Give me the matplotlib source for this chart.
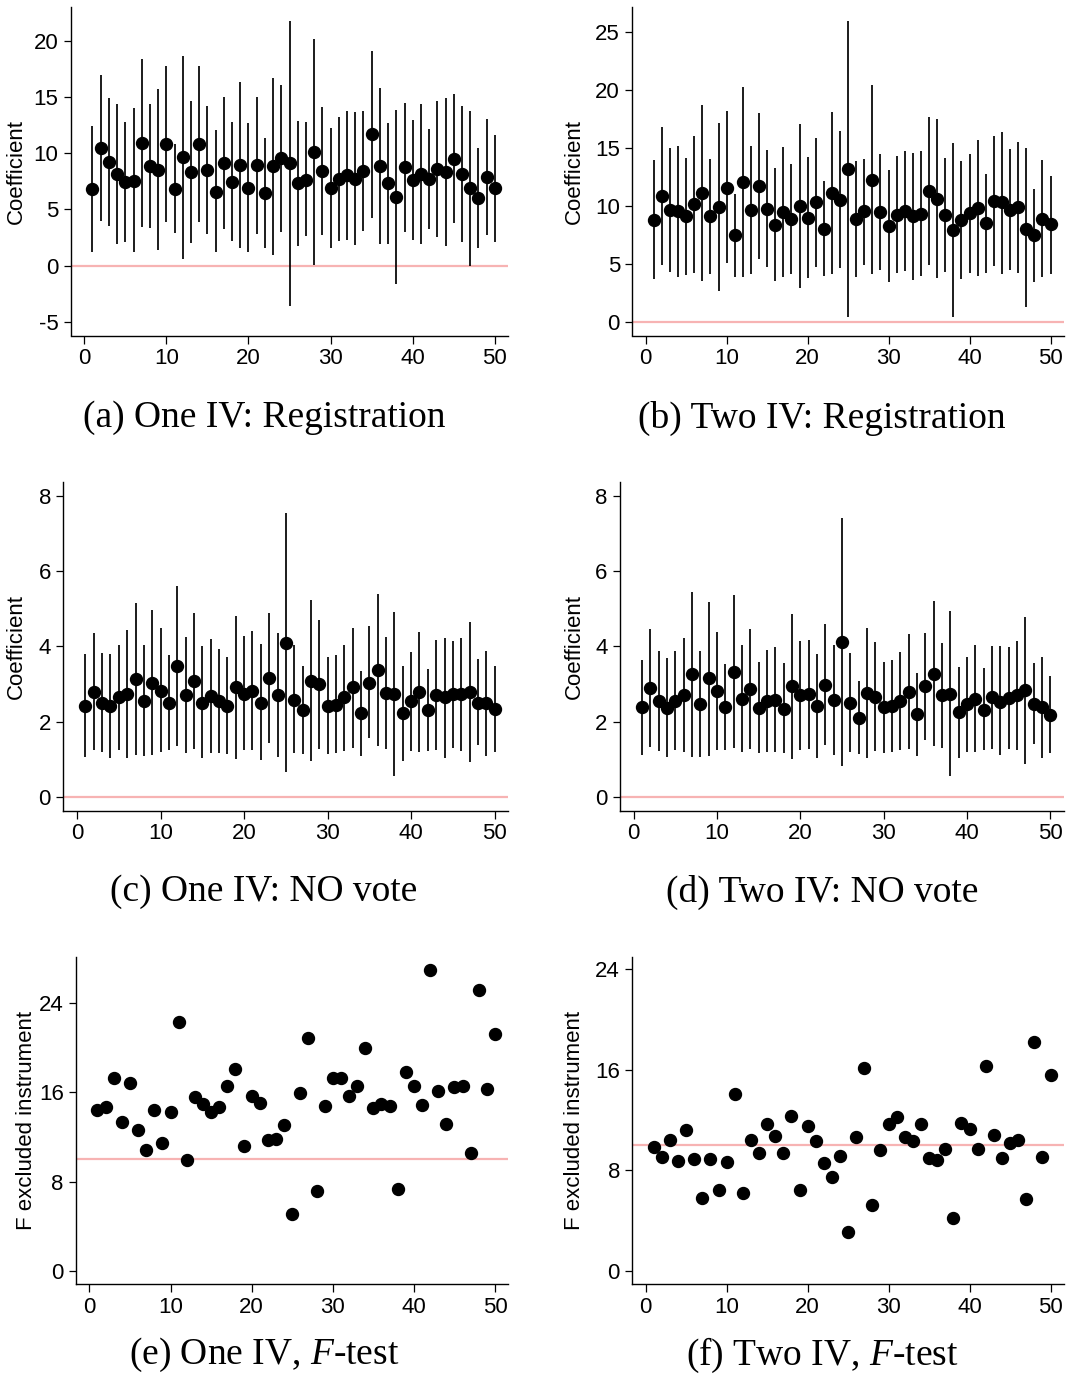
import numpy as np
import matplotlib
matplotlib.use("Agg")
import matplotlib.pyplot as plt

plt.rcParams['font.family'] = ['Liberation Sans', 'DejaVu Sans']
plt.rcParams['mathtext.fontset'] = 'custom'
plt.rcParams['mathtext.rm'] = 'Liberation Serif'
plt.rcParams['mathtext.it'] = 'Liberation Serif:italic'
plt.rcParams['axes.unicode_minus'] = False

sample = list(range(1, 51))

# (a) One IV: Registration
a_coef = [6.82, 10.5, 9.26, 8.19, 7.45, 7.54, 10.95, 8.9, 8.5, 10.83,
          6.82, 9.64, 8.34, 10.8, 8.5, 6.59, 9.14, 7.45, 8.96, 6.88,
          8.96, 6.5, 8.87, 9.55, 9.1, 7.33, 7.66, 10.1, 8.43, 6.88,
          7.69, 8.07, 7.74, 8.4, 11.7, 8.87, 7.33, 6.11, 8.75, 7.63,
          8.13, 7.74, 8.58, 8.34, 9.53, 8.19, 6.88, 6.05, 7.92, 6.88]
a_hi = [12.43, 17.0, 14.9, 14.4, 12.8, 14.0, 18.4, 14.4, 15.7, 17.8,
        10.8, 18.7, 14.7, 17.8, 14.2, 12.1, 15.0, 12.8, 16.35, 12.67,
        15.0, 11.4, 16.7, 16.1, 21.8, 12.9, 12.8, 20.15, 14.1, 12.25,
        13.2, 13.8, 13.7, 13.8, 19.1, 15.8, 12.7, 13.9, 14.5, 13.0,
        14.4, 12.2, 14.7, 14.9, 15.3, 14.2, 13.8, 10.5, 13.1, 11.6]
a_lo = [1.25, 3.95, 3.56, 1.93, 2.08, 1.19, 3.44, 3.35, 1.36, 3.89,
        2.88, 0.62, 1.99, 3.89, 2.79, 1.19, 3.26, 2.17, 1.6, 1.19,
        2.79, 1.6, 0.95, 2.97, -3.56, 1.78, 2.67, 0.06, 2.76, 1.54,
        2.23, 2.31, 1.84, 3.12, 4.24, 1.96, 1.96, -1.63, 3.03, 2.26,
        1.93, 3.29, 2.58, 1.75, 3.77, 2.14, 0.0, 1.54, 2.73, 2.14]

# (b) Two IV: Registration
b_coef = [8.8, 10.85, 9.67, 9.55, 9.12, 10.16, 11.13, 9.09, 9.9, 11.57,
          7.45, 12.08, 9.61, 11.71, 9.72, 8.34, 9.47, 8.89, 9.95, 8.98,
          10.3, 8.03, 11.13, 10.53, 13.15, 8.86, 9.52, 12.26, 9.44, 8.26,
          9.23, 9.58, 9.09, 9.32, 11.28, 10.59, 9.18, 7.91, 8.77, 9.35,
          9.81, 8.49, 10.44, 10.3, 9.67, 9.9, 8.03, 7.48, 8.89, 8.4]
b_hi = [13.95, 16.83, 15.02, 15.16, 14.15, 16.02, 18.73, 14.04, 17.15, 18.18,
        11.05, 20.25, 15.16, 17.98, 14.82, 13.26, 15.05, 13.64, 17.06, 14.21,
        15.82, 12.14, 18.1, 16.43, 25.98, 13.87, 14.04, 20.4, 14.44, 13.09,
        14.3, 14.76, 14.53, 14.7, 17.64, 17.49, 14.13, 15.39, 13.9, 14.47,
        15.68, 12.77, 16.05, 16.37, 14.87, 15.53, 14.99, 11.48, 13.95, 12.6]
b_lo = [3.65, 4.86, 4.32, 3.88, 4.06, 4.23, 3.51, 4.11, 2.65, 5.03,
        3.86, 3.86, 4.09, 5.41, 4.69, 3.51, 3.86, 4.14, 2.88, 3.77,
        4.75, 3.97, 4.14, 4.66, 0.37, 3.83, 4.89, 4.11, 4.43, 3.45,
        4.17, 4.37, 3.62, 3.94, 4.89, 3.74, 4.26, 0.43, 3.65, 4.23,
        3.97, 4.23, 4.83, 4.14, 4.46, 4.23, 1.24, 3.45, 3.83, 4.14]

# (c) One IV: NO vote
c_coef = [2.43, 2.80, 2.50, 2.42, 2.65, 2.73, 3.13, 2.56, 3.04, 2.82,
          2.50, 3.49, 2.71, 3.07, 2.49, 2.68, 2.56, 2.43, 2.91, 2.74,
          2.81, 2.51, 3.16, 2.71, 4.10, 2.58, 2.31, 3.09, 2.99, 2.43,
          2.45, 2.65, 2.91, 2.22, 3.04, 3.37, 2.75, 2.73, 2.22, 2.54,
          2.79, 2.30, 2.70, 2.65, 2.73, 2.73, 2.78, 2.51, 2.49, 2.34]
c_hi = [3.80, 4.35, 3.83, 3.80, 4.03, 4.43, 5.16, 4.04, 4.97, 4.48,
        3.77, 5.60, 4.26, 4.88, 4.00, 4.19, 3.94, 3.73, 4.81, 4.27,
        4.40, 4.06, 4.89, 4.36, 7.53, 4.03, 3.48, 5.23, 4.69, 3.72,
        3.76, 4.05, 4.49, 3.34, 4.54, 5.39, 4.24, 4.91, 3.48, 3.85,
        4.37, 3.39, 4.18, 4.21, 4.15, 4.23, 4.65, 3.66, 3.88, 3.48]
c_lo = [1.07, 1.25, 1.19, 1.03, 1.24, 1.04, 1.12, 1.10, 1.13, 1.21,
        1.26, 1.36, 1.16, 1.28, 1.04, 1.17, 1.18, 1.14, 1.01, 1.24,
        1.24, 0.99, 1.43, 1.06, 0.68, 1.18, 1.14, 0.96, 1.29, 1.14,
        1.16, 1.22, 1.31, 1.10, 1.56, 1.36, 1.27, 0.57, 0.97, 1.23,
        1.21, 1.23, 1.24, 1.04, 1.31, 1.23, 0.92, 1.38, 1.09, 1.19]

# (d) Two IV: NO vote
d_coef = [2.38, 2.90, 2.56, 2.37, 2.56, 2.71, 3.27, 2.48, 3.15, 2.81,
          2.39, 3.33, 2.60, 2.88, 2.37, 2.54, 2.58, 2.35, 2.94, 2.70,
          2.73, 2.43, 2.98, 2.57, 4.12, 2.50, 2.11, 2.75, 2.67, 2.38,
          2.42, 2.56, 2.80, 2.20, 2.94, 3.27, 2.71, 2.74, 2.25, 2.47,
          2.60, 2.32, 2.66, 2.53, 2.62, 2.70, 2.84, 2.48, 2.38, 2.19]
d_hi = [3.64, 4.45, 3.88, 3.70, 3.88, 4.23, 5.45, 3.88, 5.19, 4.39,
        3.54, 5.37, 4.03, 4.46, 3.59, 3.91, 3.99, 3.55, 4.87, 4.15,
        4.17, 3.81, 4.59, 4.03, 7.41, 3.83, 3.08, 4.50, 4.12, 3.59,
        3.64, 3.86, 4.32, 3.30, 4.35, 5.20, 4.09, 4.94, 3.46, 3.73,
        4.03, 3.42, 4.01, 4.01, 3.98, 4.13, 4.79, 3.57, 3.71, 3.22]
d_lo = [1.12, 1.34, 1.23, 1.07, 1.25, 1.19, 1.07, 1.07, 1.10, 1.24,
        1.24, 1.31, 1.21, 1.27, 1.16, 1.19, 1.19, 1.17, 1.02, 1.26,
        1.29, 1.04, 1.38, 1.12, 0.82, 1.19, 1.15, 1.04, 1.23, 1.16,
        1.19, 1.25, 1.27, 1.09, 1.51, 1.36, 1.31, 0.56, 1.04, 1.21,
        1.19, 1.24, 1.27, 1.11, 1.27, 1.24, 0.88, 1.40, 1.05, 1.16]

# (e) One IV, F-test
e_f = [14.40, 14.64, 17.29, 13.36, 16.85, 12.58, 10.82, 14.37, 11.48, 14.19,
       22.27, 9.96, 15.56, 14.91, 14.19, 14.70, 16.55, 18.04, 11.21, 15.65,
       15.03, 11.72, 11.84, 13.06, 5.13, 15.89, 20.84, 7.16, 14.76, 17.23,
       17.23, 15.68, 16.55, 19.98, 14.58, 14.94, 14.79, 7.36, 17.77, 16.55,
       14.82, 26.95, 16.10, 13.12, 16.49, 16.55, 10.58, 25.10, 16.25, 21.17]

# (f) Two IV, F-test
f_f = [9.88, 9.03, 10.41, 8.77, 11.23, 8.93, 5.80, 8.90, 6.41, 8.66,
       14.07, 6.20, 10.41, 9.38, 11.71, 10.70, 9.38, 12.32, 6.44, 11.52,
       10.33, 8.56, 7.50, 9.11, 3.07, 10.62, 16.16, 5.25, 9.64, 11.68,
       12.26, 10.68, 10.30, 11.66, 8.95, 8.85, 9.70, 4.24, 11.76, 11.26,
       9.72, 16.32, 10.78, 8.98, 10.17, 10.38, 5.75, 18.17, 9.03, 15.60]

ref_coef = 0
ref_f = 10

captions = ["(a) One IV: Registration", "(b) Two IV: Registration",
            "(c) One IV: NO vote", "(d) Two IV: NO vote",
            "(e) One IV, $F$-test", "(f) Two IV, $F$-test"]
ylabels = ["Coefficient", "Coefficient", "Coefficient", "Coefficient",
           "F excluded instrument", "F excluded instrument"]

W, H = 1086, 1387
fig = plt.figure(figsize=(W / 100, H / 100), dpi=100)

PINK = '#f7b3b3'
FS = 16


def make_ax(left, right, top, bottom):
    return fig.add_axes([left / W, 1 - bottom / H, (right - left) / W, (bottom - top) / H])


def style(ax, yticks, ylim, label, label_x_px, left_px, right_px):
    ax.set_xlim(-1.65, 51.6)
    ax.set_ylim(*ylim)
    ax.set_xticks([0, 10, 20, 30, 40, 50])
    ax.set_yticks(yticks)
    for s in ['top', 'right']:
        ax.spines[s].set_visible(False)
    for s in ['left', 'bottom']:
        ax.spines[s].set_linewidth(1.0)
    ax.tick_params(direction='out', length=5.4, width=0.9, labelsize=FS, pad=3.5)
    ax.set_ylabel(label, fontsize=FS, va='center')
    ax.yaxis.set_label_coords((label_x_px - left_px) / (right_px - left_px), 0.5)


def coef_panel(ax, coef, lo, hi):
    ax.axhline(ref_coef, color=PINK, lw=1.6, zorder=1)
    ax.vlines(sample, lo, hi, color='black', lw=1.25, zorder=2)
    ax.plot(sample, coef, 'o', color='black', ms=8.6, zorder=3)


def f_panel(ax, vals):
    ax.axhline(ref_f, color=PINK, lw=1.6, zorder=1)
    ax.plot(sample, vals, 'o', color='black', ms=8.6, zorder=3)


# row 1
ax = make_ax(70.7, 508, 6.7, 335.5)
coef_panel(ax, a_coef, a_lo, a_hi)
style(ax, [-5, 0, 5, 10, 15, 20], (-6.23, 23.06), ylabels[0], 16.7, 70.7, 508)

ax = make_ax(632.3, 1063.5, 6.7, 335.5)
coef_panel(ax, b_coef, b_lo, b_hi)
style(ax, [0, 5, 10, 15, 20, 25], (-1.2, 27.2), ylabels[1], 574, 632.3, 1063.5)

# row 2
ax = make_ax(63.3, 508, 481.7, 810.7)
coef_panel(ax, c_coef, c_lo, c_hi)
style(ax, [0, 2, 4, 6, 8], (-0.36, 8.37), ylabels[2], 16.7, 63.3, 508)

ax = make_ax(620, 1063.5, 481.7, 810.7)
coef_panel(ax, d_coef, d_lo, d_hi)
style(ax, [0, 2, 4, 6, 8], (-0.36, 8.37), ylabels[3], 574, 620, 1063.5)

# row 3
ax = make_ax(76, 508, 956.7, 1284.3)
f_panel(ax, e_f)
style(ax, [0, 8, 16, 24], (-1.19, 28.1), ylabels[4], 26, 76, 508)

ax = make_ax(632.3, 1063.5, 956.7, 1284.3)
f_panel(ax, f_f)
style(ax, [0, 8, 16, 24], (-1.06, 24.98), ylabels[5], 574, 632.3, 1063.5)

cap_pos = [(264, 418), (822, 418), (264, 892), (822, 892), (264, 1355), (822, 1355)]
for (cx, cy), cap in zip(cap_pos, captions):
    fig.text(cx / W, 1 - cy / H, cap, family='Liberation Serif', fontsize=27,
             ha='center', va='center')

fig.savefig('out.png', dpi=100)
